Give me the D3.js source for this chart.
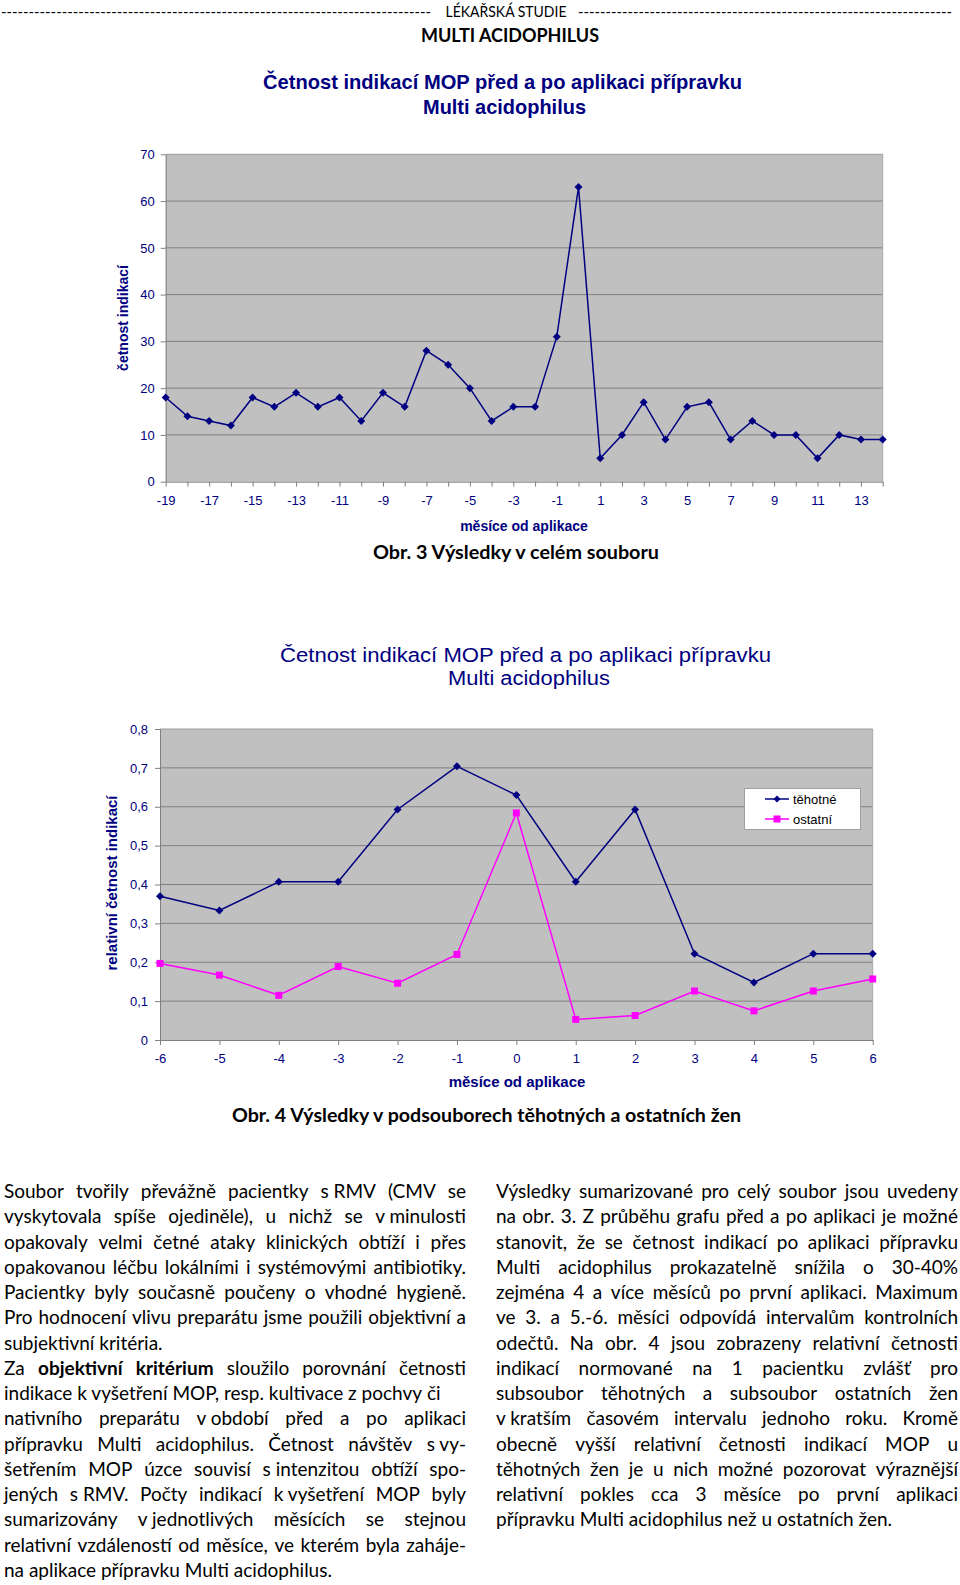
<!DOCTYPE html>
<html><head><meta charset="utf-8">
<script src="https://cdn.jsdelivr.net/npm/d3@7"></script>
<style>
html,body{margin:0;padding:0;background:#fff;}
svg{display:block;}
</style>
</head><body>
<script>
// ---------- DATA ----------
const months1 = [-19,-18,-17,-16,-15,-14,-13,-12,-11,-10,-9,-8,-7,-6,-5,-4,-3,-2,-1,0,1,2,3,4,5,6,7,8,9,10,11,12,13,14];
const counts1 = [18,14,13,12,18,16,19,16,18,13,19,16,28,25,20,13,16,16,31,63,5,10,17,9,16,17,9,13,10,10,5,10,9,9];
const xLabels1 = [-19,-17,-15,-13,-11,-9,-7,-5,-3,-1,1,3,5,7,9,11,13];
const yTicks1 = [0,10,20,30,40,50,60,70];

const months2 = [-6,-5,-4,-3,-2,-1,0,1,2,3,4,5,6];
const pregnant = [0.370,0.333,0.407,0.407,0.593,0.704,0.630,0.407,0.593,0.222,0.148,0.222,0.222];
const others   = [0.197,0.167,0.115,0.189,0.146,0.220,0.584,0.053,0.063,0.126,0.075,0.126,0.157];
const yTicks2 = [0,0.1,0.2,0.3,0.4,0.5,0.6,0.7,0.8];
const seriesNames = ["těhotné","ostatní"];

const leftText = [
 ["Soubor tvořily převážně pacientky s\u00a0RMV (CMV se", true],
 ["vyskytovala spíše ojediněle), u nichž se v\u00a0minulosti", true],
 ["opakovaly velmi četné ataky klinických obtíží i přes", true],
 ["opakovanou léčbu lokálními i systémovými antibiotiky.", true],
 ["Pacientky byly současně poučeny o vhodné hygieně.", true],
 ["Pro hodnocení vlivu preparátu jsme použili objektivní a", true],
 ["subjektivní kritéria.", false],
 ["Za **objektivní kritérium** sloužilo porovnání četnosti", true],
 ["indikace k\u00a0vyšetření MOP, resp. kultivace z pochvy či", false],
 ["nativního preparátu v\u00a0období před a po aplikaci", true],
 ["přípravku Multi acidophilus. Četnost návštěv s\u00a0vy-", true],
 ["šetřením MOP úzce souvisí s\u00a0intenzitou obtíží spo-", true],
 ["jených s\u00a0RMV. Počty indikací k\u00a0vyšetření MOP byly", true],
 ["sumarizovány v\u00a0jednotlivých měsících se stejnou", true],
 ["relativní vzdáleností od měsíce, ve kterém byla zaháje-", true],
 ["na aplikace přípravku Multi acidophilus.", false]
];
const rightText = [
 ["Výsledky sumarizované pro celý soubor jsou uvedeny", true],
 ["na obr. 3. Z průběhu grafu před a po aplikaci je možné", true],
 ["stanovit, že se četnost indikací  po aplikaci přípravku", true],
 ["Multi acidophilus prokazatelně snížila o 30-40%", true],
 ["zejména 4 a více měsíců po první aplikaci. Maximum", true],
 ["ve 3. a 5.-6. měsíci odpovídá intervalům kontrolních", true],
 ["odečtů. Na obr. 4 jsou zobrazeny relativní četnosti", true],
 ["indikací normované na 1 pacientku zvlášť pro", true],
 ["subsoubor těhotných a subsoubor ostatních žen", true],
 ["v\u00a0kratším časovém intervalu jednoho roku. Kromě", true],
 ["obecně vyšší relativní četnosti indikací MOP u", true],
 ["těhotných žen je u nich možné pozorovat výraznější", true],
 ["relativní pokles cca 3 měsíce po první aplikaci", true],
 ["přípravku Multi acidophilus než u ostatních žen.", false]
];

// ---------- STYLE ----------
const NAVY = "#000080", MAG = "#ff00ff", PLOTBG = "#c0c0c0", GRID = "#808080";
const ARIAL = "'Liberation Sans', Arial, sans-serif";
const NARROW = "'Liberation Sans Narrow', 'Liberation Sans', Arial, sans-serif";
const CAL = "Lato, Carlito, Calibri, sans-serif";

const svg = d3.select("body").append("svg").attr("width", 960).attr("height", 1585);

// ---------- HEADER ----------
svg.append("text").attr("x", 1).attr("y", 17).attr("font-family", CAL).attr("font-size", 15)
  .attr("textLength", 430).attr("lengthAdjust", "spacingAndGlyphs").text("-".repeat(78));
svg.append("text").attr("x", 506).attr("y", 17).attr("text-anchor", "middle").attr("font-family", CAL)
  .attr("font-size", 15).attr("textLength", 121).attr("lengthAdjust", "spacingAndGlyphs").text("LÉKAŘSKÁ STUDIE");
svg.append("text").attr("x", 578).attr("y", 17).attr("font-family", CAL).attr("font-size", 15)
  .attr("textLength", 374).attr("lengthAdjust", "spacingAndGlyphs").text("-".repeat(68));
svg.append("text").attr("x", 510).attr("y", 42).attr("text-anchor", "middle").attr("font-family", CAL)
  .attr("font-weight", "bold").attr("font-size", 18).attr("textLength", 178).attr("lengthAdjust", "spacingAndGlyphs")
  .text("MULTI ACIDOPHILUS");

function diamondPath(r){ return `M0,${-r}L${r},0L0,${r}L${-r},0Z`; }

// ---------- CHART 1 ----------
(function(){
  const L = 165.7, R = 882.7, T = 154.3, B = 481.7;
  const x = d3.scalePoint().domain(months1).range([L, R]);
  const y = d3.scaleLinear().domain([0, 70]).range([B, T]);
  const g = svg.append("g");

  g.append("text").attr("x", 502.5).attr("y", 89).attr("text-anchor", "middle").attr("font-family", NARROW)
    .attr("font-weight", "bold").attr("font-size", 21).attr("fill", NAVY)
    .attr("textLength", 479).attr("lengthAdjust", "spacingAndGlyphs")
    .text("Četnost indikací MOP před a po aplikaci přípravku");
  g.append("text").attr("x", 504.5).attr("y", 114).attr("text-anchor", "middle").attr("font-family", NARROW)
    .attr("font-weight", "bold").attr("font-size", 21).attr("fill", NAVY)
    .attr("textLength", 163).attr("lengthAdjust", "spacingAndGlyphs")
    .text("Multi acidophilus");

  g.append("rect").attr("x", L).attr("y", T).attr("width", R - L).attr("height", B - T).attr("fill", PLOTBG);
  g.selectAll("line.grid").data(yTicks1.filter(d => d > 0)).join("line").attr("class", "grid")
    .attr("x1", L).attr("x2", R).attr("y1", d => y(d)).attr("y2", d => y(d))
    .attr("stroke", d => d === 70 ? "#9a9a9a" : GRID).attr("stroke-width", 1);
  g.append("line").attr("x1", R).attr("x2", R).attr("y1", T).attr("y2", B).attr("stroke", "#a8a8a8");

  const ya = g.append("g").attr("transform", `translate(${L},0)`)
    .call(d3.axisLeft(y).tickValues(yTicks1).tickSize(5).tickPadding(6).tickSizeOuter(0));
  const xa = g.append("g").attr("transform", `translate(0,${B})`)
    .call(d3.axisBottom(x).tickSize(5).tickPadding(9).tickSizeOuter(0)
      .tickFormat(d => xLabels1.includes(d) ? String(d) : ""));
  [ya, xa].forEach(a => {
    a.select(".domain").attr("stroke", GRID);
    a.selectAll(".tick line").attr("stroke", GRID);
    a.selectAll("text").attr("font-family", ARIAL).attr("font-size", 13).attr("fill", NAVY);
  });

  g.append("path").datum(months1.map((m, i) => [m, counts1[i]]))
    .attr("fill", "none").attr("stroke", NAVY).attr("stroke-width", 1.5)
    .attr("d", d3.line().x(d => x(d[0])).y(d => y(d[1])));
  g.selectAll("path.pt").data(months1.map((m, i) => [m, counts1[i]])).join("path").attr("class", "pt")
    .attr("transform", d => `translate(${x(d[0])},${y(d[1])})`).attr("d", diamondPath(4)).attr("fill", NAVY);

  g.append("text").attr("transform", "translate(128,318) rotate(-90)").attr("text-anchor", "middle")
    .attr("font-family", ARIAL).attr("font-weight", "bold").attr("font-size", 14).attr("fill", NAVY)
    .text("četnost indikací");
  g.append("text").attr("x", 524).attr("y", 531).attr("text-anchor", "middle")
    .attr("font-family", ARIAL).attr("font-weight", "bold").attr("font-size", 14).attr("fill", NAVY)
    .text("měsíce od aplikace");
})();

// ---------- CAPTION 1 ----------
svg.append("text").attr("x", 373).attr("y", 559).attr("font-family", CAL).attr("font-weight", "bold")
  .attr("font-size", 18).attr("textLength", 286).attr("lengthAdjust", "spacingAndGlyphs")
  .text("Obr. 3  Výsledky v celém souboru");

// ---------- CHART 2 ----------
(function(){
  const L = 160, R = 872.7, T = 729, B = 1040;
  const x = d3.scalePoint().domain(months2).range([L, R]);
  const y = d3.scaleLinear().domain([0, 0.8]).range([B, T]);
  const g = svg.append("g");

  g.append("text").attr("x", 525.5).attr("y", 662).attr("text-anchor", "middle").attr("font-family", ARIAL)
    .attr("font-size", 20).attr("fill", NAVY).attr("textLength", 491).attr("lengthAdjust", "spacingAndGlyphs")
    .text("Četnost indikací MOP před a po aplikaci přípravku");
  g.append("text").attr("x", 529).attr("y", 685).attr("text-anchor", "middle").attr("font-family", ARIAL)
    .attr("font-size", 20).attr("fill", NAVY).attr("textLength", 162).attr("lengthAdjust", "spacingAndGlyphs")
    .text("Multi acidophilus");

  g.append("rect").attr("x", L).attr("y", T).attr("width", R - L).attr("height", B - T).attr("fill", PLOTBG);
  g.selectAll("line.grid").data(yTicks2.filter(d => d > 0)).join("line").attr("class", "grid")
    .attr("x1", L).attr("x2", R).attr("y1", d => y(d)).attr("y2", d => y(d))
    .attr("stroke", d => d === 0.8 ? "#9a9a9a" : GRID).attr("stroke-width", 1);
  g.append("line").attr("x1", R).attr("x2", R).attr("y1", T).attr("y2", B).attr("stroke", "#a8a8a8");

  const fmt = d => d === 0 ? "0" : d3.format(".1f")(d).replace(".", ",");
  const ya = g.append("g").attr("transform", `translate(${L},0)`)
    .call(d3.axisLeft(y).tickValues(yTicks2).tickFormat(fmt).tickSize(5).tickPadding(7).tickSizeOuter(0));
  const xa = g.append("g").attr("transform", `translate(0,${B})`)
    .call(d3.axisBottom(x).tickSize(5).tickPadding(9).tickSizeOuter(0));
  [ya, xa].forEach(a => {
    a.select(".domain").attr("stroke", GRID);
    a.selectAll(".tick line").attr("stroke", GRID);
    a.selectAll("text").attr("font-family", ARIAL).attr("font-size", 13).attr("fill", NAVY);
  });

  const line = d3.line().x(d => x(d[0])).y(d => y(d[1]));
  const s1 = months2.map((m, i) => [m, pregnant[i]]);
  const s2 = months2.map((m, i) => [m, others[i]]);
  g.append("path").datum(s2).attr("fill", "none").attr("stroke", MAG).attr("stroke-width", 1.5).attr("d", line);
  g.append("path").datum(s1).attr("fill", "none").attr("stroke", NAVY).attr("stroke-width", 1.5).attr("d", line);
  g.selectAll("rect.pt2").data(s2).join("rect").attr("class", "pt2")
    .attr("x", d => x(d[0]) - 3.5).attr("y", d => y(d[1]) - 3.5).attr("width", 7).attr("height", 7).attr("fill", MAG);
  g.selectAll("path.pt1").data(s1).join("path").attr("class", "pt1")
    .attr("transform", d => `translate(${x(d[0])},${y(d[1])})`).attr("d", diamondPath(4)).attr("fill", NAVY);

  // legend
  const lg = g.append("g");
  lg.append("rect").attr("x", 744.5).attr("y", 788.5).attr("width", 116).attr("height", 41)
    .attr("fill", "#fff").attr("stroke", "#a0a0a0");
  const cols = [NAVY, MAG];
  seriesNames.forEach((nm, i) => {
    const yy = 799 + i * 20;
    lg.append("line").attr("x1", 765).attr("x2", 789).attr("y1", yy).attr("y2", yy).attr("stroke", cols[i]).attr("stroke-width", 1.5);
    if (i === 0) lg.append("path").attr("transform", `translate(777,${yy})`).attr("d", diamondPath(3.5)).attr("fill", NAVY);
    else lg.append("rect").attr("x", 777 - 3.5).attr("y", yy - 3.5).attr("width", 7).attr("height", 7).attr("fill", MAG);
    lg.append("text").attr("x", 793).attr("y", yy + 5).attr("font-family", ARIAL).attr("font-size", 13)
      .attr("fill", "#000").text(nm);
  });

  g.append("text").attr("transform", "translate(117,883) rotate(-90)").attr("text-anchor", "middle")
    .attr("font-family", ARIAL).attr("font-weight", "bold").attr("font-size", 15).attr("fill", NAVY)
    .text("relativní četnost indikací");
  g.append("text").attr("x", 517).attr("y", 1087).attr("text-anchor", "middle")
    .attr("font-family", ARIAL).attr("font-weight", "bold").attr("font-size", 15).attr("fill", NAVY)
    .text("měsíce od aplikace");
})();

// ---------- CAPTION 2 ----------
svg.append("text").attr("x", 232).attr("y", 1122).attr("font-family", CAL).attr("font-weight", "bold")
  .attr("font-size", 18).attr("textLength", 509).attr("lengthAdjust", "spacingAndGlyphs")
  .text("Obr. 4  Výsledky v podsouborech těhotných a ostatních žen");

// ---------- BODY TEXT ----------
const FS = 19;
function paragraph(lines, x0, width, y0, lh) {
  const g = svg.append("g").attr("font-family", CAL).attr("font-size", FS).attr("fill", "#000");
  const probe = g.append("text").text("a a");
  const w1 = probe.node().getComputedTextLength();
  probe.text("aa");
  const spaceW = w1 - probe.node().getComputedTextLength();
  probe.remove();
  lines.forEach(([txt, just], i) => {
    const yy = y0 + i * lh;
    let bold = false;
    const words = txt.split(" ").filter(w => w.length).map(w => {
      let b = bold, t = w;
      if (t.startsWith("**")) { b = true; bold = true; t = t.slice(2); }
      if (t.endsWith("**")) { t = t.slice(0, -2); bold = false; }
      return { t, b };
    });
    const els = words.map(w => g.append("text").attr("y", yy).attr("font-weight", w.b ? "bold" : "normal").text(w.t));
    let ws = els.map(e => e.node().getComputedTextLength());
    let sum = d3.sum(ws);
    const minSum = sum + spaceW * 0.6 * (words.length - 1);
    if (minSum > width) {
      // squeeze glyphs slightly so the line still fits its column
      const k = (width - spaceW * 0.6 * (words.length - 1)) / sum;
      els.forEach((e, j) => e.attr("textLength", ws[j] * k).attr("lengthAdjust", "spacingAndGlyphs"));
      ws = ws.map(w => w * k); sum = d3.sum(ws);
    }
    const gap = (just && words.length > 1) ? (width - sum) / (words.length - 1) : spaceW;
    let cx = x0;
    els.forEach((e, k) => { e.attr("x", cx); cx += ws[k] + gap; });
  });
}
paragraph(leftText, 4, 462, 1198, 25.26);
paragraph(rightText, 496, 462, 1198, 25.26);
</script>
</body></html>
